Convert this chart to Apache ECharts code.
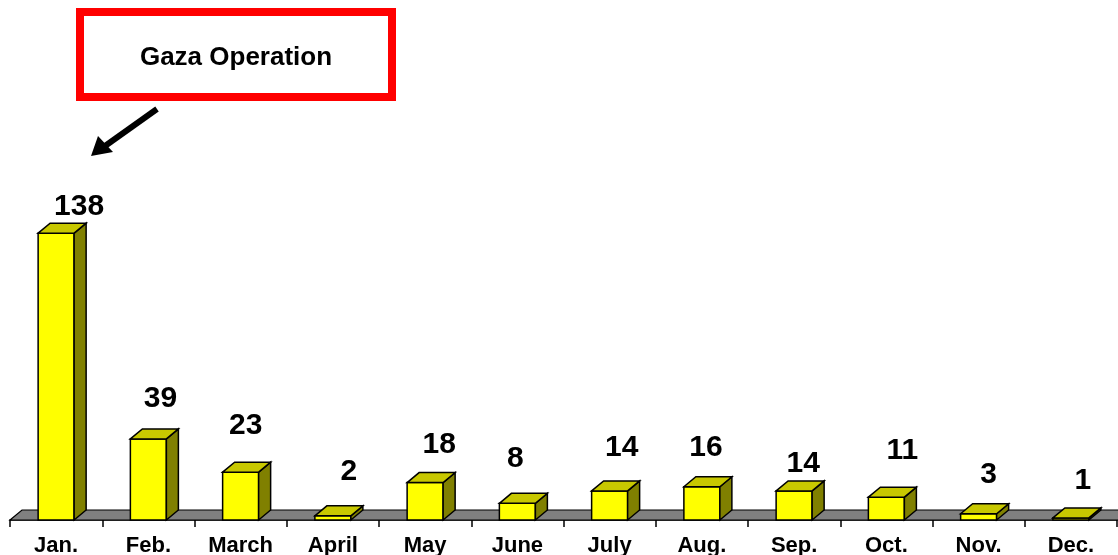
<html>
<head>
<meta charset="utf-8">
<script src="https://cdn.jsdelivr.net/npm/echarts@6/dist/echarts.min.js"></script>
<style>
 body { margin:0; background:#fff; }
 #main { width:1118px; height:555px; }
</style>
</head>
<body>
<div id="main"></div>
<script type="text/javascript">
    // months and values
    var months = ['Jan.', 'Feb.', 'March', 'April', 'May', 'June', 'July', 'Aug.', 'Sep.', 'Oct.', 'Nov.', 'Dec.'];
    var counts = [138, 39, 23, 2, 18, 8, 14, 16, 14, 11, 3, 1];
    var noteText = 'Gaza Operation';

    // value labels were placed by hand in the original: [shift right, lift above bar]
    var labelNudge = [[23, 29], [12, 43], [5, 49], [16, 47], [14, 41], [-2, 48],
                      [12, 46], [4, 42], [9, 30], [16, 49], [10, 42], [12, 40]];

    var DX = 12, DY = 10, BW = 36;
    var FONT = '"Liberation Sans", Arial, sans-serif';

    // 3d bar: front, side, top + value label
    function renderBar(params, api) {
        var base = api.coord([api.value(0), 0]);
        var top = api.coord([api.value(0), api.value(1)]);
        var x0 = base[0] - BW / 2, x1 = base[0] + BW / 2;
        var yb = base[1], yt = top[1];
        var line = { stroke: '#000', lineWidth: 1.5 };
        var nud = labelNudge[params.dataIndex] || [12, 43];
        return {
            type: 'group',
            children: [
                { type: 'rect', shape: { x: x0, y: yt, width: BW, height: yb - yt },
                  style: Object.assign({ fill: '#FFFF00' }, line) },
                { type: 'polygon', shape: { points: [[x1, yb], [x1 + DX, yb - DY], [x1 + DX, yt - DY], [x1, yt]] },
                  style: Object.assign({ fill: '#808000' }, line) },
                { type: 'polygon', shape: { points: [[x0, yt], [x0 + DX, yt - DY], [x1 + DX, yt - DY], [x1, yt]] },
                  style: Object.assign({ fill: '#C8C800' }, line) },
                { type: 'text',
                  style: { text: String(api.value(1)), x: base[0] + nud[0], y: yt - nud[1] + 3,
                           align: 'center', verticalAlign: 'middle',
                           font: 'bold 30px ' + FONT, fill: '#000' } }
            ]
        };
    }

    // grey floor under the bars
    function renderFloor(params, api) {
        var cs = params.coordSys;
        var yb = api.coord([0, 0])[1];
        return {
            type: 'polygon',
            shape: { points: [[cs.x, yb], [cs.x + DX, yb - DY], [cs.x + cs.width + DX, yb - DY], [cs.x + cs.width + DX, yb]] },
            style: { fill: '#808080', stroke: '#000', lineWidth: 1.2 }
        };
    }

    var myChart = echarts.init(document.getElementById('main'));
    var option = {
        animation: false,
        grid: { left: 10, right: 1, top: 229, bottom: 35, outerBoundsMode: 'none', containLabel: false },
        xAxis: {
            type: 'category',
            data: months,
            axisLine: { show: true, lineStyle: { color: '#000', width: 1.5 } },
            axisTick: { show: true, length: 7, lineStyle: { color: '#000', width: 1.5 } },
            axisLabel: { color: '#000', fontWeight: 'bold', fontSize: 22, fontFamily: FONT, margin: 15 }
        },
        yAxis: {
            type: 'value', min: 0, max: 140, show: false, splitLine: { show: false }
        },
        series: [
            {
                type: 'custom', renderItem: renderFloor, clip: false, z: 1,
                data: [[0, 0]]
            },
            {
                type: 'custom', renderItem: renderBar, clip: false, z: 3,
                data: counts.map(function (v, i) { return [i, v]; })
            }
        ],
        graphic: [
            { type: 'rect', shape: { x: 80, y: 12, width: 312, height: 85 },
              style: { fill: '#fff', stroke: '#FF0000', lineWidth: 8 } },
            { type: 'text', style: { text: noteText, x: 236, y: 58, align: 'center', verticalAlign: 'middle',
              font: 'bold 26px ' + FONT, fill: '#000' } },
            { type: 'line', shape: { x1: 157, y1: 109, x2: 105, y2: 146 },
              style: { stroke: '#000', lineWidth: 6 } },
            { type: 'polygon', shape: { points: [[91, 156], [98, 136], [113, 152]] },
              style: { fill: '#000' } }
        ]
    };
    myChart.setOption(option);
</script>
</body>
</html>
